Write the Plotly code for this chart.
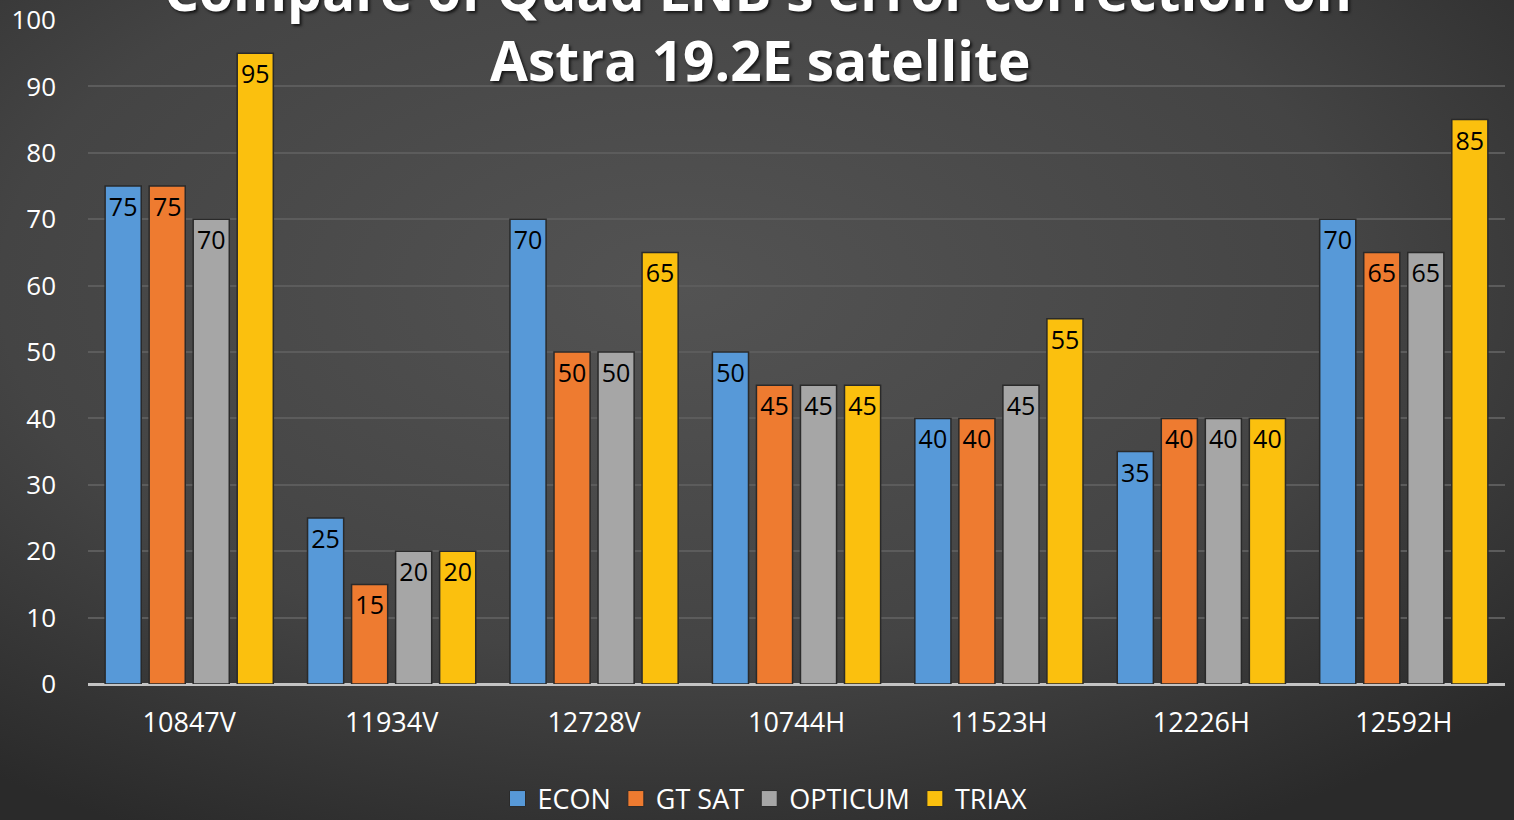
import base64
import plotly.graph_objects as go

categories = ["10847V", "11934V", "12728V", "10744H", "11523H", "12226H", "12592H"]
econ = [75, 25, 70, 50, 40, 35, 70]
gt_sat = [75, 15, 50, 45, 40, 40, 65]
opticum = [70, 20, 50, 45, 45, 40, 65]
triax = [95, 20, 65, 45, 55, 40, 85]
series_names = ["ECON", "GT SAT", "OPTICUM", "TRIAX"]
series_values = [econ, gt_sat, opticum, triax]
series_colors = ["#5799d8", "#ee7b30", "#a6a6a6", "#fbc00e"]
title_lines = ["Compare of Quad LNB's error correction on", "Astra 19.2E satellite"]

W, H = 1514, 820
L, R, T, B = 88, 9, 20, 136
pw, ph = W - L - R, H - T - B


def py(px_from_top):
    return (H - B - px_from_top) / ph


fig = go.Figure()
for name, vals, col in zip(series_names, series_values, series_colors):
    fig.add_trace(go.Bar(
        x=categories, y=vals, name=name, showlegend=False, legendgroup=name,
        marker=dict(color=col, line=dict(color="#2a2a2a", width=1.5)),
        text=vals, textposition="inside", insidetextanchor="end",
        constraintext="none",
        textfont=dict(family="Open Sans", size=25, color="#000000"),
        cliponaxis=False,
    ))
# legend entries (square swatches)
for name, col in zip(series_names, series_colors):
    fig.add_trace(go.Scatter(
        x=[None], y=[None], mode="markers", name=name, legendgroup=name,
        marker=dict(symbol="square", size=16, color=col, line=dict(color="#2a2a2a", width=1)),
        showlegend=True,
    ))

svg = f'''<svg xmlns="http://www.w3.org/2000/svg" width="{W}" height="{H}" viewBox="0 0 {W} {H}" preserveAspectRatio="none">
<defs><radialGradient id="g" cx="0.45" cy="0.35" r="0.75">
<stop offset="0" stop-color="#535353"/><stop offset="0.6" stop-color="#444444"/><stop offset="1" stop-color="#2a2a2a"/>
</radialGradient></defs><rect width="{W}" height="{H}" fill="url(#g)"/></svg>'''
src = "data:image/svg+xml;base64," + base64.b64encode(svg.encode()).decode()

title_font = dict(family="Open Sans", size=55, color="#ffffff", weight="bold",
                  shadow="2px 2px 3px rgba(0,0,0,0.7)")

fig.update_layout(
    width=W, height=H,
    margin=dict(l=L, r=R, t=T, b=B, autoexpand=False),
    paper_bgcolor="#3f3f3f",
    plot_bgcolor="rgba(0,0,0,0)",
    barmode="group", bargap=0.13, bargroupgap=0.18,
    font=dict(family="Open Sans", color="#ffffff"),
    images=[dict(source=src, xref="paper", yref="paper",
                 x=-L / pw, y=1 + T / ph, sizex=W / pw, sizey=H / ph,
                 xanchor="left", yanchor="top", sizing="stretch", layer="below")],
    xaxis=dict(showgrid=False, showline=False, ticks="",
               tickfont=dict(family="Open Sans", size=27, color="#ffffff"),
               ticklabelstandoff=20),
    yaxis=dict(range=[0, 100], dtick=10, showgrid=True, gridcolor="#5c5c5c", gridwidth=2,
               zeroline=True, zerolinecolor="#c4c4c4", zerolinewidth=2.5,
               showline=False, ticks="",
               tickfont=dict(family="Open Sans", size=26, color="#ffffff"),
               ticklabelstandoff=31),
    legend=dict(orientation="h", x=(765 - L) / pw, xanchor="center",
                y=py(799), yanchor="middle",
                font=dict(family="Open Sans", size=27, color="#ffffff"),
                bgcolor="rgba(0,0,0,0)", itemwidth=30, traceorder="normal"),
    annotations=[
        dict(text=title_lines[0], xref="paper", yref="paper",
             x=(758 - L) / pw, y=py(-11), xanchor="center", yanchor="middle",
             showarrow=False, font=title_font),
        dict(text=title_lines[1], xref="paper", yref="paper",
             x=(760 - L) / pw, y=py(60), xanchor="center", yanchor="middle",
             showarrow=False, font=title_font),
    ],
)

fig.write_html("out.html", config={"displayModeBar": False},
               post_script="document.body.style.margin='0';")
